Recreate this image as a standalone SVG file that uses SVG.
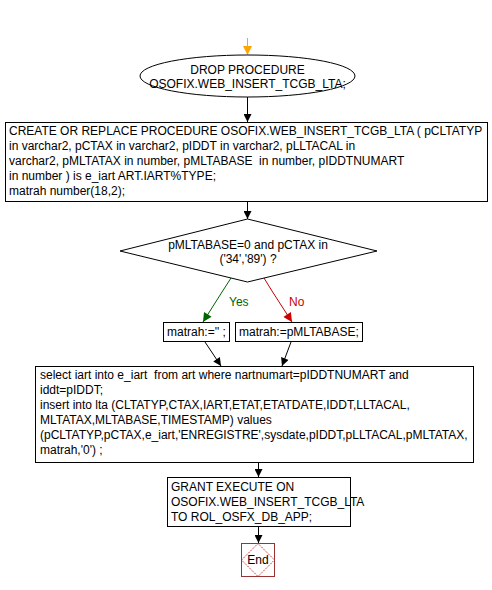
<svg xmlns="http://www.w3.org/2000/svg" width="492" height="590" viewBox="0 0 492 590">
<style>
text{font-family:"Liberation Sans",Arial,sans-serif;font-size:12px;fill:#000;white-space:pre}
.box{fill:#fff;stroke:#000;stroke-width:1}
.c{text-anchor:middle}
.ln{fill:none;stroke:#000;stroke-width:1}
</style>
<defs>
<marker id="ab" viewBox="0 0 10 10" refX="10" refY="5" markerWidth="11" markerHeight="8" markerUnits="userSpaceOnUse" orient="auto"><path d="M0,0 L10,5 L0,10 Z" fill="#000"/></marker>
<marker id="ag" viewBox="0 0 10 10" refX="10" refY="5" markerWidth="11" markerHeight="9" markerUnits="userSpaceOnUse" orient="auto"><path d="M0,0 L10,5 L0,10 Z" fill="#006600"/></marker>
<marker id="ar" viewBox="0 0 10 10" refX="10" refY="5" markerWidth="11" markerHeight="9" markerUnits="userSpaceOnUse" orient="auto"><path d="M0,0 L10,5 L0,10 Z" fill="#cc0000"/></marker>
<marker id="ao" viewBox="0 0 10 10" refX="10" refY="5" markerWidth="11" markerHeight="9" markerUnits="userSpaceOnUse" orient="auto"><path d="M0,0 L10,5 L0,10 Z" fill="#ffa500"/></marker>
</defs>
<rect width="492" height="590" fill="#fff"/>
<g id="connectors">
<line x1="247.5" y1="38" x2="247.5" y2="55" stroke="#ffa500" stroke-width="1" marker-end="url(#ao)"/>
<line class="ln" x1="247.5" y1="97" x2="247.5" y2="122" marker-end="url(#ab)"/>
<line class="ln" x1="247.5" y1="202" x2="247.5" y2="219" marker-end="url(#ab)"/>
<polyline points="231,278 222,292 203,322" fill="none" stroke="#006600" marker-end="url(#ag)"/>
<text x="229" y="306" style="fill:#006600">Yes</text>
<polyline points="264,278 272,291 292,322" fill="none" stroke="#cc0000" marker-end="url(#ar)"/>
<text x="289" y="306" style="fill:#cc0000">No</text>
<line class="ln" x1="205" y1="342" x2="221" y2="366" marker-end="url(#ab)"/>
<line class="ln" x1="291" y1="342" x2="282" y2="366" marker-end="url(#ab)"/>
<line class="ln" x1="258.5" y1="462" x2="258.5" y2="477" marker-end="url(#ab)"/>
<line class="ln" x1="258.5" y1="527" x2="258.5" y2="543" marker-end="url(#ab)"/>
</g>
<g id="drop">
<ellipse class="box" cx="247.5" cy="76" rx="107.5" ry="21"/>
<text class="c" x="247.5" y="74">DROP PROCEDURE</text>
<text class="c" x="247.5" y="88">OSOFIX.WEB_INSERT_TCGB_LTA;</text>
</g>
<g id="create">
<rect class="box" x="5.5" y="122.5" width="482" height="79"/>
<text x="9" y="135">CREATE OR REPLACE PROCEDURE OSOFIX.WEB_INSERT_TCGB_LTA ( pCLTATYP</text>
<text x="9" y="150">in varchar2, pCTAX in varchar2, pIDDT in varchar2, pLLTACAL in</text>
<text x="9" y="165" xml:space="preserve">varchar2, pMLTATAX in number, pMLTABASE  in number, pIDDTNUMART</text>
<text x="9" y="180">in number ) is e_iart ART.IART%TYPE;</text>
<text x="9" y="195">matrah number(18,2);</text>
</g>
<g id="decision">
<polygon class="box" points="247.5,219 377,251 247.5,282 120,251"/>
<text class="c" x="248" y="249">pMLTABASE=0 and pCTAX in</text>
<text class="c" x="248" y="263">('34','89') ?</text>
</g>
<g id="yesbox">
<rect class="box" x="163.5" y="322.5" width="66" height="19"/>
<text x="167" y="336">matrah:='' ;</text>
</g>
<g id="nobox">
<rect class="box" x="235.5" y="322.5" width="127" height="19"/>
<text x="239" y="336">matrah:=pMLTABASE;</text>
</g>
<g id="insert">
<rect class="box" x="35.5" y="366.5" width="438" height="96"/>
<text x="40" y="379" xml:space="preserve">select iart into e_iart  from art where nartnumart=pIDDTNUMART and</text>
<text x="40" y="394">iddt=pIDDT;</text>
<text x="40" y="409">insert into lta (CLTATYP,CTAX,IART,ETAT,ETATDATE,IDDT,LLTACAL,</text>
<text x="40" y="424">MLTATAX,MLTABASE,TIMESTAMP) values</text>
<text x="40" y="439">(pCLTATYP,pCTAX,e_iart,'ENREGISTRE',sysdate,pIDDT,pLLTACAL,pMLTATAX,</text>
<text x="40" y="454">matrah,'0') ;</text>
</g>
<g id="grant">
<rect class="box" x="167.5" y="477.5" width="183" height="49"/>
<text x="171" y="491">GRANT EXECUTE ON</text>
<text x="171" y="506">OSOFIX.WEB_INSERT_TCGB_LTA</text>
<text x="171" y="521">TO ROL_OSFX_DB_APP;</text>
</g>
<g id="end">
<rect x="241.5" y="543.5" width="33" height="33" fill="#fff" stroke="#993333"/>
<polygon points="258,543.5 274.5,560 258,576.5 241.5,560" fill="none" stroke="#cc3333" stroke-dasharray="1.5,1"/>
<text class="c" x="258" y="564">End</text>
</g>
</svg>
